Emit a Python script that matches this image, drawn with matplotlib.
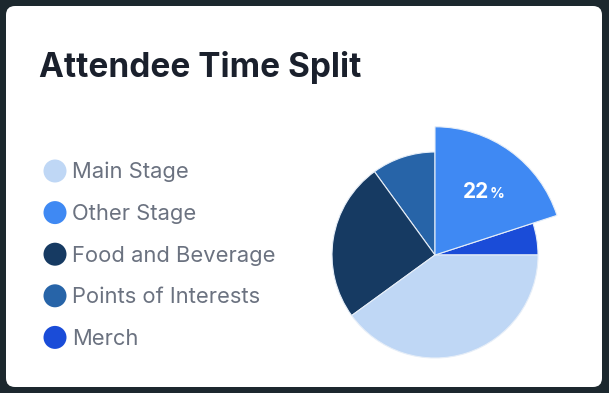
import numpy as np
import matplotlib.pyplot as plt
from matplotlib.patches import FancyBboxPatch, Circle

# legend order
categories = ["Main Stage", "Other Stage", "Food and Beverage", "Points of Interests", "Merch"]
shares = [40, 20, 25, 10, 5]
colors = ["#bfd7f5", "#3f89f3", "#163a62", "#2764a8", "#1a4cd8"]
# counter-clockwise from 3 o'clock
pie_order = [4, 1, 3, 2, 0]
highlight = "Other Stage"
highlight_pct = 22

W, H = 609, 393
BG = "#1c282e"


def py(y):
    # pixel row (top-down) -> data y
    return H - y


fig = plt.figure(figsize=(W / 100, H / 100), dpi=100)
fig.patch.set_facecolor(BG)
ax = fig.add_axes([0, 0, 1, 1])
ax.set_facecolor(BG)

card = FancyBboxPatch((6, py(387)), 596, 381,
                      boxstyle="round,pad=0,rounding_size=9",
                      facecolor="white", edgecolor="none", zorder=0)
ax.add_patch(card)

ax.text(39, py(77), "Attendee Time Split", fontsize=24, fontweight="bold",
        family="Inter", color="#1a202c", ha="left", va="baseline")

# legend
row0, step = 171, 41.6
for i, (name, col) in enumerate(zip(categories, colors)):
    yc = row0 + i * step
    ax.add_patch(Circle((55, py(yc)), 11.5, facecolor=col, edgecolor="none", zorder=2))
    ax.text(72, py(yc + 7.5), name, fontsize=15.8, family="Inter",
            color="#6b7280", ha="left", va="baseline")

# pie
cx, cy, r = 435, py(255), 103
vals = [shares[i] for i in pie_order]
cols = [colors[i] for i in pie_order]
wedges, _ = ax.pie(vals, colors=cols, startangle=0, counterclock=True,
                   center=(cx, cy), radius=r, frame=True,
                   wedgeprops=dict(edgecolor="#e6eef8", linewidth=0.8))

hi = pie_order.index(categories.index(highlight))
big = wedges[hi]
big.set_radius(r * 1.245)
big.set_zorder(3)
mid = np.deg2rad((big.theta1 + big.theta2) / 2)
lx = cx + 0.62 * r * 1.245 * np.cos(mid)
ly = cy + 0.62 * r * 1.245 * np.sin(mid)
ax.text(lx + 7, ly - 7.5, f"{highlight_pct}", fontsize=15, fontweight="bold",
        family="Inter", color="white", ha="right", va="baseline", zorder=4)
ax.text(lx + 8, ly - 7.5, "%", fontsize=10.5, fontweight="bold",
        family="Inter", color="white", ha="left", va="baseline", zorder=4)

ax.set_xlim(0, W)
ax.set_ylim(0, H)
ax.set_aspect("auto")
ax.axis("off")

fig.savefig("out.png", dpi=100, facecolor=BG)
